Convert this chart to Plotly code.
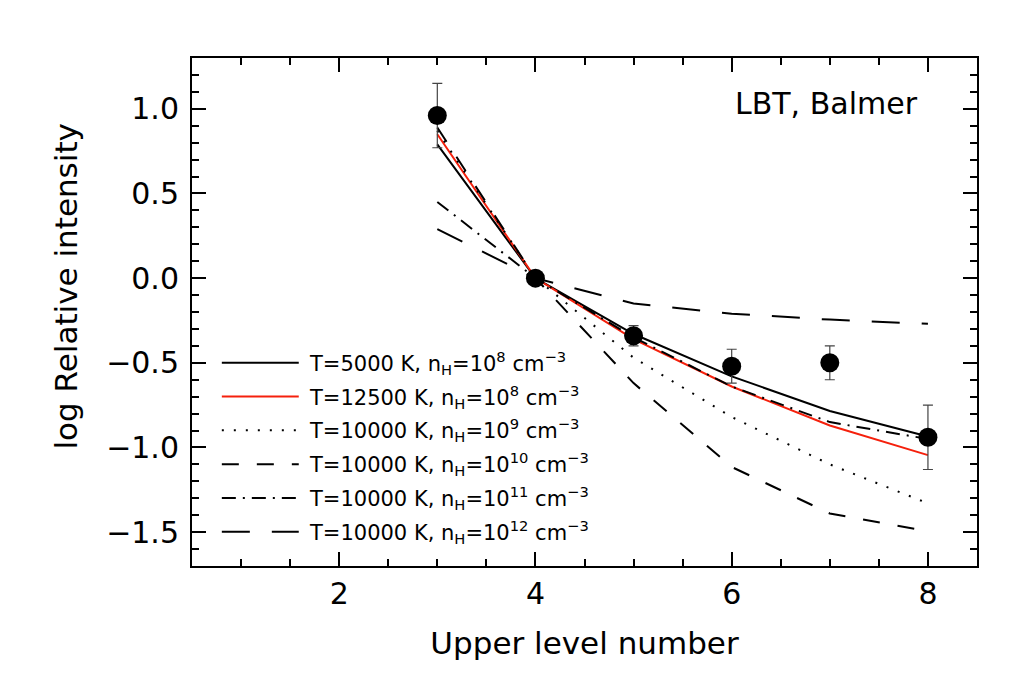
import plotly.graph_objects as go

# observed Balmer decrement (log relative to Hbeta)
levels = [3, 4, 5, 6, 7, 8]
obs = [0.96, 0.0, -0.34, -0.52, -0.50, -0.94]
obs_err = [0.19, 0.0, 0.06, 0.10, 0.10, 0.19]

# model curves
t5000_n8 = [0.79, 0.0, -0.33, -0.58, -0.785, -0.935]
t12500_n8 = [0.85, 0.0, -0.36, -0.64, -0.87, -1.045]
t10000_n9 = [0.87, 0.0, -0.47, -0.82, -1.10, -1.33]
t10000_n10 = [0.89, 0.0, -0.62, -1.115, -1.39, -1.495]
t10000_n11 = [0.45, 0.0, -0.35, -0.64, -0.85, -0.95]
t10000_n12 = [0.29, 0.0, -0.15, -0.21, -0.245, -0.27]

labels = [
    "T=5000 K, n<sub>H</sub>=10<sup>8</sup> cm<sup>\u22123</sup>",
    "T=12500 K, n<sub>H</sub>=10<sup>8</sup> cm<sup>\u22123</sup>",
    "T=10000 K, n<sub>H</sub>=10<sup>9</sup> cm<sup>\u22123</sup>",
    "T=10000 K, n<sub>H</sub>=10<sup>10</sup> cm<sup>\u22123</sup>",
    "T=10000 K, n<sub>H</sub>=10<sup>11</sup> cm<sup>\u22123</sup>",
    "T=10000 K, n<sub>H</sub>=10<sup>12</sup> cm<sup>\u22123</sup>",
]

models = [t5000_n8, t12500_n8, t10000_n9, t10000_n10, t10000_n11, t10000_n12]
colors = ["black", "#f5200c", "black", "black", "black", "black"]
dashes = ["solid", "solid", "2px,10px", "17px,18px", "14px,7px,2px,7px", "28px,22px"]

FONT = "DejaVu Sans"

fig = go.Figure()

for y, c, d, lab in zip(models, colors, dashes, labels):
    fig.add_trace(go.Scatter(x=levels, y=y, mode="lines", name=lab,
                             line=dict(color=c, width=2, dash=d), showlegend=False))

fig.add_trace(go.Scatter(
    x=levels, y=obs, mode="markers", showlegend=False,
    marker=dict(size=19, color="black"),
    error_y=dict(type="data", array=obs_err, color="#444444", thickness=1.2, width=5),
))

# hand-made legend (long line samples like the original)
row0, step = 0.400, 0.0665
for i, (c, d, lab) in enumerate(zip(colors, dashes, labels)):
    yy = row0 - i * step
    fig.add_shape(type="line", xref="paper", yref="paper", x0=0.038, x1=0.136,
                  y0=yy, y1=yy, line=dict(color=c, width=2, dash=d))
    fig.add_annotation(xref="paper", yref="paper", x=0.146, y=yy, text=lab,
                       showarrow=False, xanchor="left", yanchor="middle",
                       font=dict(size=21, color="black", family=FONT))

fig.add_annotation(xref="paper", yref="paper", x=0.928, y=0.911, text="LBT, Balmer",
                   showarrow=False, xanchor="right", yanchor="middle",
                   font=dict(size=30, color="black", family=FONT))

fig.add_annotation(xref="paper", yref="paper", x=-0.16, y=0.551,
                   text="log Relative intensity", textangle=-90,
                   showarrow=False, xanchor="center", yanchor="middle",
                   font=dict(size=31, color="black", family=FONT))

axis_common = dict(
    showgrid=False, zeroline=False, showline=True, linecolor="black", linewidth=2,
    mirror="allticks", ticks="inside", ticklen=14, tickwidth=2, tickcolor="black",
    tickfont=dict(size=30, color="black", family=FONT),
)

fig.update_xaxes(range=[0.5, 8.5], tickvals=[2, 4, 6, 8], ticklabelstandoff=0,
                 minor=dict(dtick=0.5, tick0=0, ticks="inside", ticklen=7, tickwidth=2,
                            tickcolor="black"),
                 title=dict(text="Upper level number", standoff=22,
                            font=dict(size=31, color="black", family=FONT)),
                 **axis_common)
fig.update_yaxes(range=[-1.7, 1.3], tickvals=[-1.5, -1.0, -0.5, 0.0, 0.5, 1.0],
                 ticktext=["\u22121.5", "\u22121.0", "\u22120.5", "0.0", "0.5", "1.0"],
                 ticklabelstandoff=5,
                 minor=dict(dtick=0.1, tick0=0, ticks="inside", ticklen=7, tickwidth=2,
                            tickcolor="black"),
                 **axis_common)

fig.update_layout(
    width=1035, height=688,
    margin=dict(l=184, r=66, t=50, b=130),
    paper_bgcolor="white", plot_bgcolor="white",
    font=dict(family=FONT, color="black"),
)

fig.write_html("out.html")
